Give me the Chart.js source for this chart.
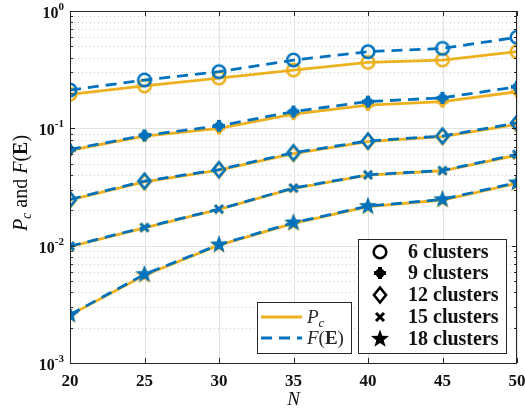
<!DOCTYPE html>
<html>
<head>
<meta charset="utf-8">
<script src="https://cdn.jsdelivr.net/npm/chart.js@4.4.1/dist/chart.umd.min.js"></script>
<style>
  html, body { margin: 0; padding: 0; background: #fff; }
  #wrap { width: 525px; height: 411px; }
</style>
</head>
<body>
<div id="wrap"><canvas id="chart" width="525" height="411"></canvas></div>
<script>
// x values (N) and read-off values per cluster count
var nValues = [20, 25, 30, 35, 40, 45, 50];

var pc6 = [0.195, 0.230, 0.268, 0.314, 0.365, 0.382, 0.450];
var fe6 = [0.212, 0.258, 0.304, 0.382, 0.450, 0.480, 0.597];

var pc9 = [0.065, 0.086, 0.100, 0.132, 0.158, 0.169, 0.205];
var fe9 = [0.066, 0.087, 0.105, 0.139, 0.169, 0.182, 0.226];

var pc12 = [0.0245, 0.035, 0.044, 0.061, 0.077, 0.085, 0.108];
var fe12 = [0.0248, 0.0355, 0.0445, 0.062, 0.078, 0.086, 0.111];

var pc15 = [0.0098, 0.0142, 0.0204, 0.0308, 0.040, 0.0435, 0.059];
var fe15 = [0.0099, 0.0143, 0.0205, 0.0310, 0.0402, 0.0437, 0.060];

var pc18 = [0.00256, 0.0056, 0.0101, 0.0155, 0.0215, 0.0245, 0.034];
var fe18 = [0.00258, 0.0057, 0.0102, 0.0157, 0.0217, 0.0248, 0.0345];

var clusterLabels = ['6 clusters', '9 clusters', '12 clusters', '15 clusters', '18 clusters'];
var xTicks = [20, 25, 30, 35, 40, 45, 50];
var yDecades = [-3, -2, -1, 0];

var ORANGE = '#EDB120';
var BLUE = '#0072BD';
var SERIF = '"Liberation Serif", "DejaVu Serif", serif';

function makeMarker(kind, color) {
    var s = 24, c = document.createElement('canvas');
    c.width = s; c.height = s;
    var g = c.getContext('2d');
    g.translate(s / 2, s / 2);
    g.strokeStyle = color;
    g.fillStyle = color;
    g.lineCap = 'butt';
    if (kind === 'circle') {
        g.lineWidth = 2.6;
        g.beginPath(); g.arc(0, 0, 6.3, 0, Math.PI * 2); g.stroke();
    } else if (kind === 'plus') {
        g.lineWidth = 4;
        g.beginPath();
        g.moveTo(-6, 0); g.lineTo(6, 0);
        g.moveTo(0, -6); g.lineTo(0, 6);
        g.stroke();
        g.beginPath(); g.arc(0, 0, 4.6, 0, Math.PI * 2); g.fill();
    } else if (kind === 'diamond') {
        g.lineWidth = 2.6;
        g.beginPath();
        g.moveTo(0, -7.5); g.lineTo(6, 0); g.lineTo(0, 7.5); g.lineTo(-6, 0);
        g.closePath(); g.stroke();
    } else if (kind === 'cross') {
        g.lineWidth = 3;
        g.beginPath();
        g.moveTo(-4, -4); g.lineTo(4, 4);
        g.moveTo(-4, 4); g.lineTo(4, -4);
        g.stroke();
    } else if (kind === 'star') {
        g.beginPath();
        for (var i = 0; i < 10; i++) {
            var r = i % 2 === 0 ? 9.5 : 3.9;
            var a = -Math.PI / 2 + i * Math.PI / 5;
            g.lineTo(r * Math.cos(a), r * Math.sin(a));
        }
        g.closePath(); g.fill();
    }
    return c;
}

var kinds = ['circle', 'plus', 'diamond', 'cross', 'star'];
var pcSeries = [pc6, pc9, pc12, pc15, pc18];
var feSeries = [fe6, fe9, fe12, fe15, fe18];

function toPoints(arr) {
    return arr.map(function(v, i) { return { x: nValues[i], y: v }; });
}

var datasets = [];
kinds.forEach(function(k, i) {
    datasets.push({
        label: 'Pc ' + clusterLabels[i],
        data: toPoints(pcSeries[i]),
        borderColor: ORANGE,
        borderWidth: 2.8,
        pointStyle: makeMarker(k, ORANGE),
        pointRadius: 8,
        order: 2
    });
    datasets.push({
        label: 'F(E) ' + clusterLabels[i],
        data: toPoints(feSeries[i]),
        borderColor: BLUE,
        borderWidth: 2.8,
        borderDash: [11, 7],
        pointStyle: makeMarker(k, BLUE),
        pointRadius: 8,
        order: 1
    });
});
var legendMarkers = kinds.map(function(k) { return makeMarker(k, '#000'); });

// draw pieces of mixed-style text in a row, returns width
function drawRuns(ctx, runs, x, y, measureOnly) {
    var w = 0;
    runs.forEach(function(r) {
        ctx.font = r.font;
        if (!measureOnly) ctx.fillText(r.t, x + w, y + (r.dy || 0));
        w += ctx.measureText(r.t).width;
    });
    return w;
}

var decorPlugin = {
    id: 'decor',
    beforeDatasetsDraw: function(chart) {
        var ctx = chart.ctx, a = chart.chartArea;
        var xs = chart.scales.x, ys = chart.scales.y;
        ctx.save();
        // minor dotted grid
        ctx.strokeStyle = '#c8c8c8';
        ctx.lineWidth = 1;
        ctx.setLineDash([1, 3]);
        yDecades.forEach(function(d) {
            if (d === 0) return;
            for (var m = 2; m <= 9; m++) {
                var y = Math.round(ys.getPixelForValue(m * Math.pow(10, d))) + 0.5;
                ctx.beginPath(); ctx.moveTo(a.left, y); ctx.lineTo(a.right, y); ctx.stroke();
            }
        });
        ctx.setLineDash([]);
        // major grid
        ctx.strokeStyle = '#e3e3e3';
        yDecades.forEach(function(d) {
            var y = Math.round(ys.getPixelForValue(Math.pow(10, d))) + 0.5;
            ctx.beginPath(); ctx.moveTo(a.left, y); ctx.lineTo(a.right, y); ctx.stroke();
        });
        xTicks.forEach(function(t) {
            var x = Math.round(xs.getPixelForValue(t)) + 0.5;
            ctx.beginPath(); ctx.moveTo(x, a.top); ctx.lineTo(x, a.bottom); ctx.stroke();
        });
        ctx.restore();
    },
    afterDatasetsDraw: function(chart) {
        var ctx = chart.ctx, a = chart.chartArea;
        var xs = chart.scales.x, ys = chart.scales.y;
        ctx.save();
        // box and inward ticks
        ctx.strokeStyle = '#262626';
        ctx.lineWidth = 1;
        ctx.strokeRect(a.left + 0.5, a.top + 0.5, a.right - a.left - 1, a.bottom - a.top);
        ctx.beginPath();
        xTicks.forEach(function(t) {
            var x = Math.round(xs.getPixelForValue(t)) + 0.5;
            ctx.moveTo(x, a.bottom); ctx.lineTo(x, a.bottom - 5);
            ctx.moveTo(x, a.top); ctx.lineTo(x, a.top + 5);
        });
        yDecades.forEach(function(d) {
            for (var m = 1; m <= 9; m++) {
                if (d === 0 && m > 1) break;
                var y = Math.round(ys.getPixelForValue(m * Math.pow(10, d))) + 0.5;
                var len = m === 1 ? 5 : 3;
                ctx.moveTo(a.left, y); ctx.lineTo(a.left + len, y);
                ctx.moveTo(a.right, y); ctx.lineTo(a.right - len, y);
            }
        });
        ctx.stroke();

        // y tick labels 10^k
        ctx.fillStyle = '#111';
        ctx.textBaseline = 'middle';
        yDecades.forEach(function(d) {
            var y = ys.getPixelForValue(Math.pow(10, d));
            var runs = [
                { t: '10', font: 'bold 16px ' + SERIF, dy: 3 },
                { t: String(d), font: 'bold 11px ' + SERIF, dy: -4 }
            ];
            var w = drawRuns(ctx, runs, 0, 0, true);
            drawRuns(ctx, runs, a.left - 6 - w, y, false);
        });

        // axis titles
        ctx.textBaseline = 'alphabetic';
        ctx.textAlign = 'left';
        ctx.font = 'italic 19px ' + SERIF;
        var nw = ctx.measureText('N').width;
        ctx.fillText('N', (a.left + a.right) / 2 - nw / 2, 405);

        var yRuns = [
            { t: 'P', font: 'italic 20px ' + SERIF },
            { t: 'c', font: 'italic 14px ' + SERIF, dy: 4 },
            { t: ' and ', font: '20px ' + SERIF },
            { t: 'F', font: 'italic 20px ' + SERIF },
            { t: '(', font: '20px ' + SERIF },
            { t: 'E', font: 'bold 20px ' + SERIF },
            { t: ')', font: '20px ' + SERIF }
        ];
        ctx.save();
        ctx.translate(27, 183);
        ctx.rotate(-Math.PI / 2);
        var tw = drawRuns(ctx, yRuns, 0, 0, true);
        drawRuns(ctx, yRuns, -tw / 2, 0, false);
        ctx.restore();

        // legend for line styles
        ctx.fillStyle = '#fff';
        ctx.fillRect(257, 302, 94, 51);
        ctx.strokeStyle = '#262626';
        ctx.lineWidth = 1;
        ctx.strokeRect(257.5, 302.5, 94, 51);
        ctx.lineWidth = 2.8;
        ctx.strokeStyle = ORANGE;
        ctx.beginPath(); ctx.moveTo(261, 317); ctx.lineTo(302, 317); ctx.stroke();
        ctx.strokeStyle = BLUE;
        ctx.setLineDash([11, 7]);
        ctx.beginPath(); ctx.moveTo(261, 338); ctx.lineTo(302, 338); ctx.stroke();
        ctx.setLineDash([]);
        ctx.fillStyle = '#262626';
        drawRuns(ctx, [
            { t: 'P', font: 'italic 19px ' + SERIF },
            { t: 'c', font: 'italic 13px ' + SERIF, dy: 4 }
        ], 307, 323, false);
        drawRuns(ctx, [
            { t: 'F', font: 'italic 19px ' + SERIF },
            { t: '(', font: '19px ' + SERIF },
            { t: 'E', font: 'bold 19px ' + SERIF },
            { t: ')', font: '19px ' + SERIF }
        ], 307, 344, false);

        // legend for cluster markers
        ctx.fillStyle = '#fff';
        ctx.fillRect(358, 239, 148, 114);
        ctx.strokeStyle = '#262626';
        ctx.lineWidth = 1;
        ctx.strokeRect(358.5, 239.5, 148, 114);
        ctx.fillStyle = '#111';
        ctx.font = 'bold 20px ' + SERIF;
        ctx.textBaseline = 'middle';
        var rows = [252, 273, 295, 317, 339];
        clusterLabels.forEach(function(lbl, i) {
            ctx.drawImage(legendMarkers[i], 380 - 12, rows[i] - 12);
            ctx.fillText(lbl, 408, rows[i] + 1);
        });
        ctx.restore();
    }
};

var ctx = document.getElementById('chart').getContext('2d');
new Chart(ctx, {
    type: 'line',
    data: { datasets: datasets },
    options: {
        responsive: false,
        animation: false,
        events: [],
        layout: { autoPadding: false, padding: { left: 0, right: 8, top: 11, bottom: 0 } },
        plugins: { legend: { display: false }, tooltip: { enabled: false } },
        scales: {
            x: {
                type: 'linear',
                min: 20,
                max: 50,
                afterFit: function(s) {
                    s.height = 48;
                    s.paddingLeft = 0;
                    s.paddingRight = 0;
                },
                afterBuildTicks: function(s) {
                    s.ticks = xTicks.map(function(v) { return { value: v }; });
                },
                grid: { display: false, drawTicks: false, tickLength: 0 },
                border: { display: false },
                ticks: {
                    color: '#111',
                    padding: 8,
                    maxRotation: 0,
                    font: { family: SERIF, weight: 'bold', size: 17 }
                }
            },
            y: {
                type: 'logarithmic',
                min: 0.001,
                max: 1,
                afterFit: function(s) {
                    s.width = 70;
                    s.paddingTop = 0;
                    s.paddingBottom = 0;
                },
                grid: { display: false },
                border: { display: false },
                ticks: { display: false }
            }
        }
    },
    plugins: [decorPlugin]
});
</script>
</body>
</html>
